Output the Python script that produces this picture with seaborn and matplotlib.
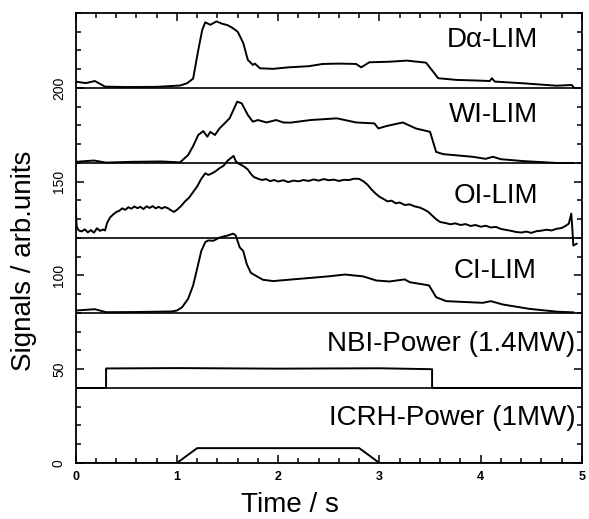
import numpy as np
import pandas as pd
import seaborn as sns
import matplotlib.pyplot as plt
from matplotlib.ticker import MultipleLocator

# Signal traces (already offset)
da_t = [0.0, 0.1, 0.19, 0.29, 0.5, 0.8, 1.03, 1.1, 1.16, 1.21, 1.25, 1.28, 1.33, 1.39, 1.45, 1.5, 1.55,
        1.6, 1.655, 1.7, 1.75, 1.77, 1.82, 1.95, 2.1, 2.3, 2.44, 2.6, 2.77, 2.82, 2.9, 3.1, 3.27, 3.46,
        3.53, 3.58, 3.76, 4.0, 4.09, 4.11, 4.14, 4.42, 4.75, 4.9, 4.92]
da_v = [203.4, 202.6, 203.7, 200.7, 200.5, 200.6, 201.3, 202.5, 205.0, 220.0, 231.0, 235.0, 233.7, 235.5,
        234.2, 233.5, 232.0, 230.0, 224.0, 215.0, 212.3, 213.0, 210.5, 210.2, 211.0, 211.6, 212.8, 213.0,
        212.8, 211.0, 213.7, 214.0, 214.6, 213.5, 208.7, 205.2, 204.3, 203.9, 203.7, 205.2, 203.4, 202.5,
        201.2, 201.6, 200.2]

wi_t = [0.0, 0.18, 0.3, 0.55, 0.85, 1.03, 1.11, 1.16, 1.21, 1.26, 1.3, 1.33, 1.375, 1.42, 1.52, 1.595,
        1.64, 1.7, 1.75, 1.8, 1.885, 1.98, 2.05, 2.12, 2.32, 2.58, 2.77, 2.95, 2.99, 3.07, 3.23, 3.36,
        3.5, 3.56, 3.63, 3.92, 4.05, 4.12, 4.2, 4.42, 4.75, 4.92]
wi_v = [160.6, 161.3, 160.2, 160.6, 160.8, 160.3, 164.2, 169.0, 174.9, 177.0, 174.0, 176.6, 174.9, 178.4,
        183.8, 192.7, 191.8, 185.6, 182.0, 182.9, 181.6, 182.9, 181.6, 181.5, 182.9, 183.8, 181.6, 181.1,
        178.4, 179.7, 181.6, 178.4, 176.6, 165.9, 164.7, 163.3, 162.2, 163.3, 162.0, 161.0, 160.0, 160.0]

oi_t = [0.0, 0.01, 0.03, 0.06, 0.09, 0.12, 0.15, 0.18, 0.21, 0.24, 0.27, 0.29, 0.31, 0.34, 0.37, 0.40,
        0.43, 0.46, 0.49, 0.52, 0.55, 0.58, 0.61, 0.64, 0.67, 0.70, 0.73, 0.76, 0.79, 0.82, 0.85, 0.88,
        0.91, 0.94, 0.97, 1.00, 1.04, 1.08, 1.12, 1.16, 1.20, 1.24, 1.28, 1.31, 1.34, 1.38, 1.42, 1.46,
        1.50, 1.53, 1.56, 1.58, 1.61, 1.64, 1.67, 1.70, 1.73, 1.76, 1.80, 1.84, 1.88, 1.92, 1.96, 2.00,
        2.05, 2.10, 2.15, 2.20, 2.25, 2.30, 2.35, 2.40, 2.45, 2.50, 2.55, 2.60, 2.65, 2.70, 2.75, 2.80,
        2.84, 2.88, 2.92, 2.96, 3.00, 3.04, 3.08, 3.12, 3.16, 3.20, 3.25, 3.30, 3.35, 3.40, 3.44, 3.48,
        3.52, 3.56, 3.60, 3.65, 3.70, 3.75, 3.80, 3.85, 3.90, 3.95, 4.00, 4.05, 4.10, 4.15, 4.20, 4.25,
        4.30, 4.35, 4.40, 4.45, 4.50, 4.55, 4.60, 4.65, 4.70, 4.75, 4.80, 4.84, 4.87, 4.895, 4.905, 4.915,
        4.95]
oi_v = [136.0, 126.0, 124.0, 123.5, 124.6, 123.0, 124.2, 122.8, 125.2, 123.8, 124.5, 124.0, 128.0, 131.0,
        132.5, 133.8, 134.5, 135.8, 135.0, 136.4, 135.6, 136.8, 135.9, 136.6, 135.4, 136.9, 136.0, 137.0,
        135.8, 136.6, 135.7, 136.5, 135.9, 134.8, 133.9, 135.0, 137.0, 139.5, 141.5, 144.5, 147.5, 151.5,
        154.5, 153.6, 154.3, 155.5, 157.2, 158.5, 161.2, 162.5, 163.8, 161.0, 159.6, 158.8, 157.8, 156.5,
        154.2, 152.5, 151.6, 150.9, 151.4, 150.3, 150.9, 150.1, 150.8, 149.8, 150.6, 150.2, 150.9, 150.4,
        151.2, 150.6, 151.4, 150.8, 151.1, 150.4, 151.0, 150.9, 151.6, 151.5, 150.3, 148.5, 146.0, 143.8,
        142.0, 140.8, 139.5, 139.9, 138.5, 138.9, 137.6, 137.9, 136.8, 136.2, 135.2, 134.0, 132.0, 130.0,
        128.5, 128.0, 127.3, 127.8, 126.9, 127.4, 126.4, 126.9, 126.0, 126.5, 125.6, 125.9, 124.8, 124.3,
        123.8, 123.2, 122.9, 123.4, 122.7, 123.6, 123.9, 124.4, 124.0, 124.9, 125.3, 126.5, 127.6, 133.0,
        125.0, 116.0, 117.0]

ci_t = [0.0, 0.19, 0.3, 0.6, 0.95, 1.0, 1.05, 1.11, 1.16, 1.21, 1.24, 1.28, 1.31, 1.36, 1.42, 1.5,
        1.555, 1.58, 1.62, 1.655, 1.69, 1.73, 1.79, 1.85, 1.95, 2.12, 2.32, 2.51, 2.66, 2.84, 2.97, 3.1,
        3.25, 3.3, 3.49, 3.56, 3.66, 4.02, 4.1, 4.22, 4.48, 4.75, 4.92]
ci_v = [81.3, 82.0, 80.4, 80.5, 80.8, 81.3, 83.0, 87.5, 94.7, 106.0, 113.0, 117.8, 118.7, 118.5, 120.2,
        121.3, 122.3, 121.4, 115.0, 113.0, 106.0, 101.4, 99.5, 97.7, 97.0, 97.8, 98.7, 99.6, 100.5, 99.5,
        97.3, 96.8, 97.9, 96.4, 94.7, 88.4, 86.3, 85.4, 86.3, 84.5, 82.2, 80.7, 80.3]

nbi_t = [0.0, 0.3, 0.3, 1.0, 2.0, 3.0, 3.52, 3.52, 5.0]
nbi_v = [40.0, 40.0, 50.4, 50.6, 50.3, 50.5, 50.0, 40.0, 40.0]

icrh_t = [0.0, 1.0, 1.2, 2.8, 3.0, 5.0]
icrh_v = [0.0, 0.0, 7.9, 7.9, 0.0, 0.0]

baselines = [40, 80, 120, 160, 200]

names = ['D\u03b1-LIM', 'WI-LIM', 'OI-LIM', 'CI-LIM', 'NBI-Power (1.4MW)', 'ICRH-Power (1MW)']
name_x = [4.565, 4.565, 4.565, 4.555, 4.935, 4.935]
name_y = [222.0, 182.0, 138.5, 98.5, 59.6, 20.3]

traces = [(da_t, da_v), (wi_t, wi_v), (oi_t, oi_v), (ci_t, ci_v), (nbi_t, nbi_v), (icrh_t, icrh_v)]

sns.set_style('ticks')
plt.rcParams['font.family'] = ['Liberation Sans', 'DejaVu Sans']
plt.rcParams['text.color'] = 'black'
plt.rcParams['axes.labelcolor'] = 'black'
plt.rcParams['xtick.color'] = 'black'
plt.rcParams['ytick.color'] = 'black'

fig = plt.figure(figsize=(5.89, 5.19), dpi=100)
ax = fig.add_axes([0.1285, 0.108, 0.8595, 0.867])

for t, v in traces:
    sns.lineplot(x=t, y=v, ax=ax, color='black', linewidth=1.4, estimator=None, sort=False)

for b in baselines:
    ax.axhline(b, color='black', linewidth=1.2)

for n, x, y in zip(names, name_x, name_y):
    ax.text(x, y, n, ha='right', va='baseline', fontsize=20, color='black')

ax.set_xlim(0, 5)
ax.set_ylim(0, 240)
ax.xaxis.set_major_locator(MultipleLocator(1))
ax.xaxis.set_minor_locator(MultipleLocator(0.2))
ax.yaxis.set_major_locator(MultipleLocator(50))
ax.yaxis.set_minor_locator(MultipleLocator(10))
ax.tick_params(which='both', direction='in', top=True, right=True, width=1.1, colors='black')
ax.tick_params(which='major', length=6, pad=6)
ax.tick_params(which='minor', length=3.5)
ax.tick_params(axis='x', labelsize=9)
ax.tick_params(axis='y', labelsize=10, pad=7)
for lab in ax.get_xticklabels():
    lab.set_fontweight('bold')
for lab in ax.get_yticklabels():
    lab.set_rotation(90)
    lab.set_va('center')
for s in ax.spines.values():
    s.set_linewidth(1.3)
    s.set_color('black')

ax.set_xlabel('Time / s', fontsize=20, color='black')
ax.xaxis.label.set_va('baseline')
ax.xaxis.set_label_coords(0.423, -0.108)
ax.set_ylabel('Signals / arb.units', fontsize=20, color='black')
ax.yaxis.label.set_va('center')
ax.yaxis.set_label_coords(-0.102, 0.449)

fig.savefig('out.png', dpi=100)
